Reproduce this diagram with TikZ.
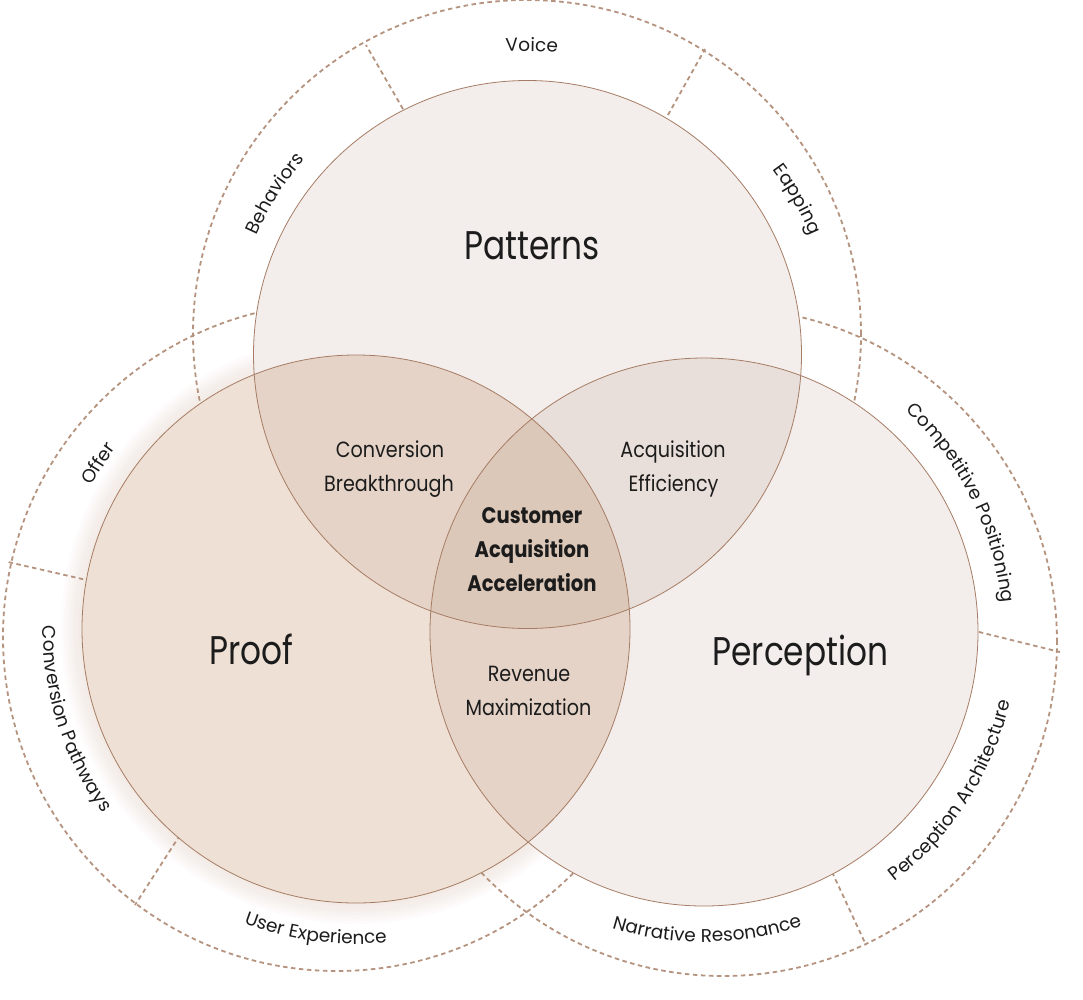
\documentclass[tikz,border=0pt]{standalone}
\usepackage{fontspec}
\usetikzlibrary{calc,decorations.text}
\newfontfamily\ringfam[LetterSpace=3]{Poppins}
\newfontfamily\labfam[FakeStretch=0.87]{Poppins}
\newfontfamily\bigfam[FakeStretch=0.82]{Poppins}
\definecolor{ink}{HTML}{1C1C1C}
\definecolor{edge}{HTML}{A67C64}
\definecolor{dashcol}{HTML}{B5937F}
\definecolor{tintA}{RGB}{163,122,97}
\definecolor{tintP}{RGB}{191,135,87}
\definecolor{glowcol}{RGB}{232,212,200}
\newcommand\ringfmt{\ringfam\fontsize{18.5}{20}\selectfont}
\newcommand\biglabfont{\bigfam\fontsize{40}{44}\selectfont}
\newcommand\midfont{\labfam\fontsize{22}{26}\selectfont}
\newcommand\keyfont{\labfam\bfseries\fontsize{22.5}{26}\selectfont}
% outward-facing ring label: center, angle, radius of text middle, half span, text
\newcommand\RingOut[5]{%
  \path[decorate,decoration={text along path,text align=center,text color=ink,text={|\ringfmt|#5}}]
    ($(#1)+({#2+#4}:{#3-7})$) arc[start angle={#2+#4}, end angle={#2-#4}, radius={#3-7}];}
% inward-facing ring label
\newcommand\RingIn[5]{%
  \path[decorate,decoration={text along path,text align=center,text color=ink,text={|\ringfmt|#5}}]
    ($(#1)+({#2-#4}:{#3+7})$) arc[start angle={#2-#4}, end angle={#2+#4}, radius={#3+7}];}
\begin{document}
\begin{tikzpicture}[x=1pt,y=1pt,
  ring/.style={draw=dashcol, line width=1.8pt, dash pattern=on 4.5pt off 3.5pt},
  rim/.style={draw=edge, line width=0.8pt},
  biglab/.style={font=\biglabfont, text=ink, anchor=base, inner sep=0pt},
  midlab/.style={font=\midfont, text=ink, anchor=base, inner sep=0pt},
  keylab/.style={font=\keyfont, text=ink, anchor=base, inner sep=0pt}]
\useasboundingbox (0,0) rectangle (1083,-999);
\fill[white] (0,0) rectangle (1083,-999);
% centres
\coordinate (C1) at (527.5,-354.5);
\coordinate (C2) at (356,-629);
\coordinate (C3) at (704,-632);
\coordinate (O1) at (527,-334);
\coordinate (O2) at (337,-637);
\coordinate (O3) at (723,-642);
% soft glow round Proof
\foreach \i in {1,...,7}
  \fill[glowcol, fill opacity=0.07] (C2) circle[radius={274+3*\i}];
% dashed outer rings
\draw[ring] (O1) circle[radius=334];
\draw[ring] (O2) circle[radius=334];
\draw[ring] (O3) circle[radius=334];
% separators
\coordinate (s1i) at (407,-116); \coordinate (s1o) at (366,-45);
\coordinate (s2i) at (664,-122); \coordinate (s2o) at (705,-49);
\coordinate (s3i) at (91,-581);  \coordinate (s3o) at (8,-562);
\coordinate (s4i) at (180,-835); \coordinate (s4o) at (135,-905);
\coordinate (s5i) at (971,-630); \coordinate (s5o) at (1060,-652);
\coordinate (s6i) at (832,-872); \coordinate (s6o) at (866,-945);
\draw[ring] (s1i) -- (s1o);
\draw[ring] (s2i) -- (s2o);
\draw[ring] (s3i) -- (s3o);
\draw[ring] (s4i) -- (s4o);
\draw[ring] (s5i) -- (s5o);
\draw[ring] (s6i) -- (s6o);
% inner circles
\fill[white] (C1) circle[radius=274];
\fill[white] (C2) circle[radius=274];
\fill[white] (C3) circle[radius=274];
\fill[tintP, fill opacity=0.25] (C2) circle[radius=274];
\fill[tintA, fill opacity=0.12] (C1) circle[radius=274];
\fill[tintA, fill opacity=0.12] (C3) circle[radius=274];
\draw[rim] (C1) circle[radius=274];
\draw[rim] (C2) circle[radius=274];
\draw[rim] (C3) circle[radius=274];
% main labels
\node[biglab] (patterns) at (532,-259) {Patterns};
\node[biglab] (proof) at (251.5,-664) {Proof};
\node[biglab] (perception) at (800.5,-665) {Perception};
% overlap labels
\node[midlab] (cb1) at (390,-457) {Conversion};
\node[midlab] (cb2) at (389,-491) {Breakthrough};
\node[midlab] (ae1) at (673,-457) {Acquisition};
\node[midlab] (ae2) at (673.5,-491) {Efficiency};
\node[midlab] (rm1) at (529,-681) {Revenue};
\node[midlab] (rm2) at (528.5,-715) {Maximization};
\node[keylab] (ca1) at (532,-523.5) {Customer};
\node[keylab] (ca2) at (532,-557.5) {Acquisition};
\node[keylab] (ca3) at (532,-591.5) {Acceleration};
% ring labels
\RingOut{C1}{89.2}{310.5}{15}{Voice}
\RingOut{C1}{147.5}{303}{20}{Behaviors}
\RingOut{C1}{29.9}{314}{18}{Eapping}
\RingOut{C2}{147.3}{307.6}{15}{Offer}
\RingIn{C2}{197.7}{306}{28}{Conversion Pathways}
\RingIn{C2}{262.4}{308}{22}{User Experience}
\RingOut{C3}{26.6}{306}{30}{Competitive Positioning}
\RingIn{C3}{-32.7}{307}{30}{Perception Architecture}
\RingIn{C3}{-89.4}{303}{25}{Narrative Resonance}
\end{tikzpicture}
\end{document}
